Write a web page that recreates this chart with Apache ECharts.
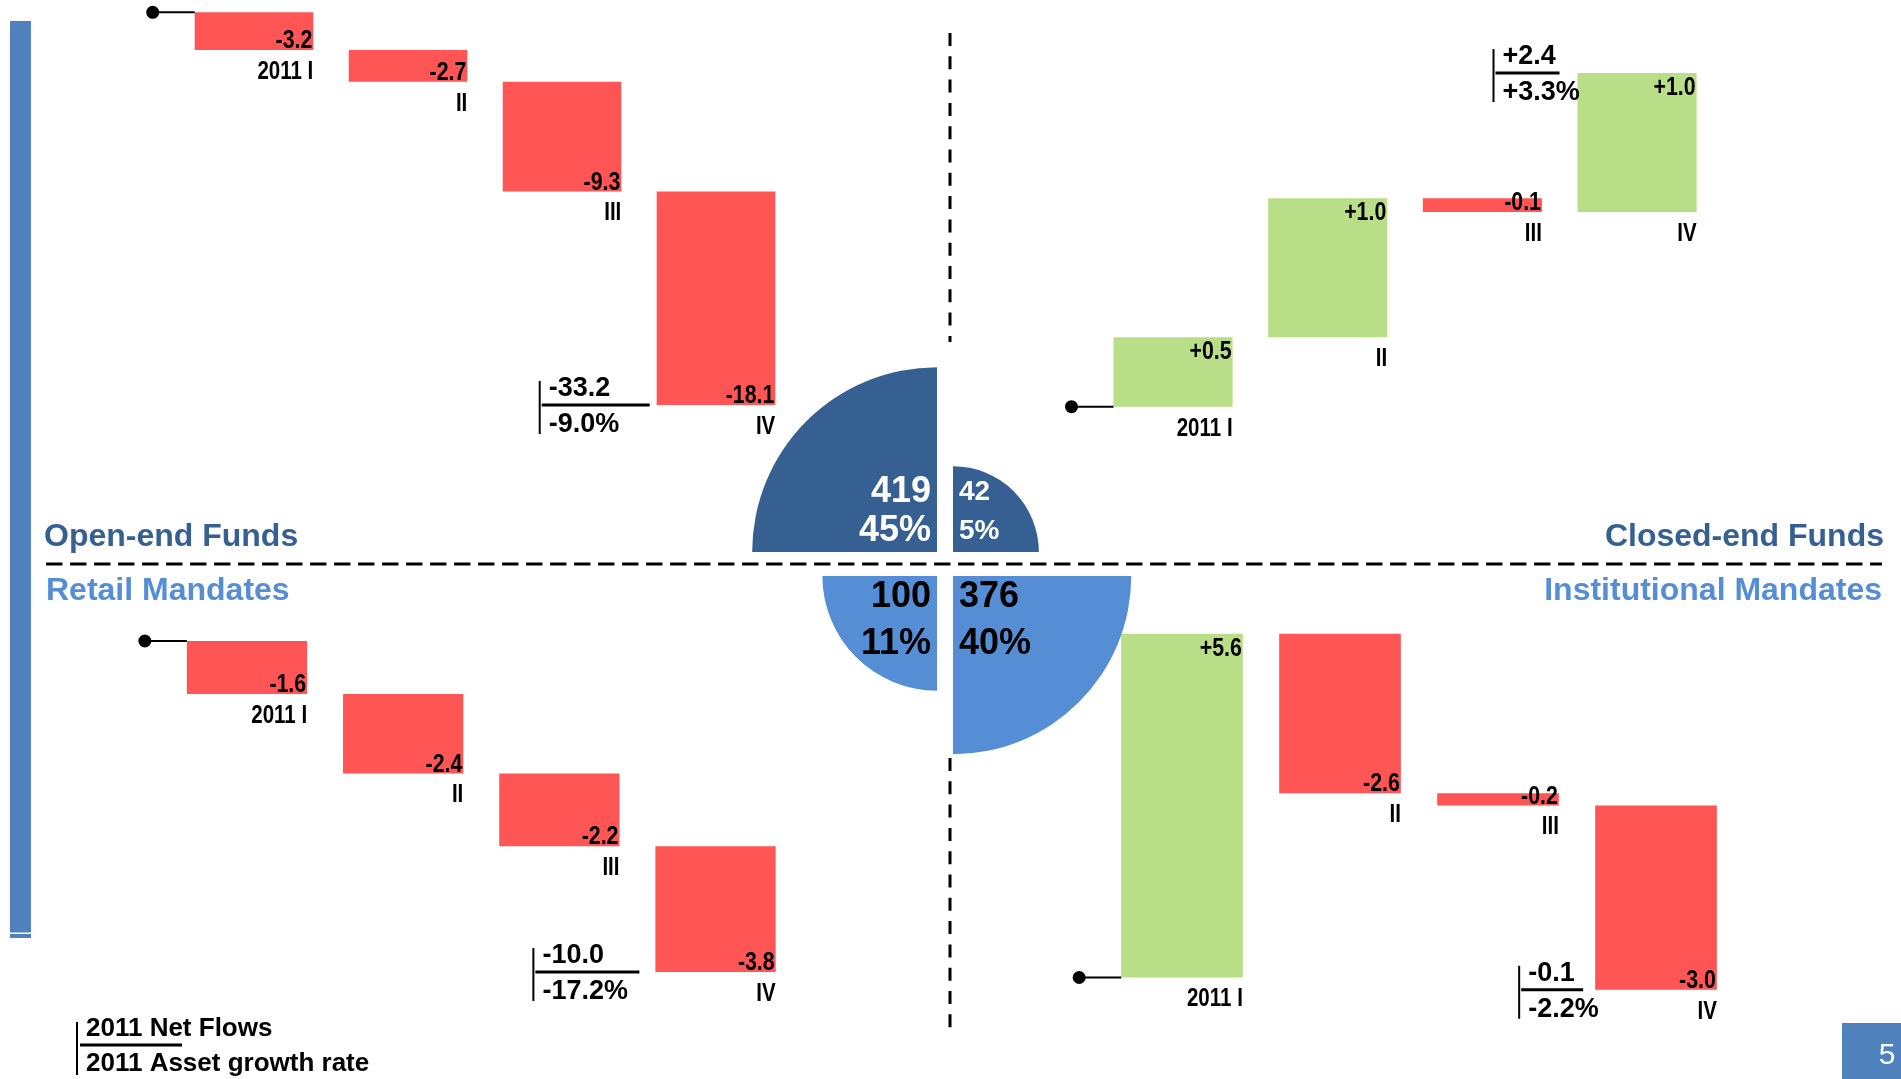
<!DOCTYPE html>
<html>
<head>
<meta charset="utf-8">
<title>2011 Net Flows by Segment</title>
<script src="https://cdn.jsdelivr.net/npm/echarts@6/dist/echarts.min.js"></script>
<style>
  html, body { margin: 0; padding: 0; background: #ffffff; }
  #chart { width: 1901px; height: 1079px; }
</style>
</head>
<body>
<div id="chart"></div>
<script>
// Quarterly net flows per segment, 2011
const quarters = ['2011 I', 'II', 'III', 'IV'];
const openEndFlows = [-3.2, -2.7, -9.3, -18.1];
const closedEndFlows = [0.5, 1.0, -0.1, 1.0];
const retailFlows = [-1.6, -2.4, -2.2, -3.8];
const institutionalFlows = [5.6, -2.6, -0.2, -3.0];

// Full-year net flows and asset growth rate (%), same segment order
const segmentNames = ['Open-end Funds', 'Closed-end Funds', 'Retail Mandates', 'Institutional Mandates'];
const netFlowTotals = [-33.2, 2.4, -10.0, -0.1];
const assetGrowthRates = [-9.0, 3.3, -17.2, -2.2];

// Assets per segment and share of the total (%)
const segmentAssets = [419, 42, 100, 376];
const segmentShares = [45, 5, 11, 40];

// ---- styling -------------------------------------------------------------
const RED = '#FF5555';
const GREEN = '#B8DF88';
const DARK_BLUE = '#376092';
const LIGHT_BLUE = '#558ED5';
const SLIDE_BLUE = '#4F81BD';
const FONT = '"Liberation Sans", Arial, Helvetica, sans-serif';
const NARROW = 0.82; // horizontal squeeze for the narrow bar captions

// One waterfall panel per quadrant: flows, plotting box, value range, note box
const panels = [
  { flows: openEndFlows, grid: { left: 177, top: 12.3, width: 616, height: 400.9 }, yMin: -34, yMax: 0, noteWidth: 110, noteGap: 7 },
  { flows: closedEndFlows, grid: { left: 1095.7, top: 59.2, width: 618.7, height: 347.5 }, yMin: 0, yMax: 2.5, noteWidth: 66, noteGap: 18 },
  { flows: retailFlows, grid: { left: 168.9, top: 641, width: 624.7, height: 347.6 }, yMin: -10.5, yMax: 0, noteWidth: 106, noteGap: 16 },
  { flows: institutionalFlows, grid: { left: 1103, top: 624.45, width: 632, height: 383.75 }, yMin: -0.5, yMax: 5.75, noteWidth: 64, noteGap: 12 }
];

function signed(v) {
  return (v > 0 ? '+' : '') + v.toFixed(1);
}

// Each row: [quarter index, level before, level after, flow]
function waterfallRows(flows) {
  let level = 0;
  return flows.map(function (v, i) {
    const start = level;
    level = Math.round((level + v) * 10) / 10;
    return [i, start, level, v];
  });
}

function renderWaterfall(panelIndex, params, api) {
  const cfg = panels[panelIndex];
  const idx = api.value(0);
  const start = api.value(1);
  const end = api.value(2);
  const delta = api.value(3);
  const hi = api.coord([idx, Math.max(start, end)]);
  const lo = api.coord([idx, Math.min(start, end)]);
  const band = api.size([1, 0])[0];
  const w = band * 0.77;
  const left = hi[0] - w / 2;
  const right = left + w;
  const negative = delta < 0;

  const children = [
    {
      type: 'rect',
      shape: { x: left, y: hi[1], width: w, height: Math.max(lo[1] - hi[1], 1) },
      style: { fill: negative ? RED : GREEN }
    },
    {
      type: 'text',
      x: right - 1,
      y: negative ? lo[1] + 4 : hi[1] + 2,
      scaleX: NARROW,
      style: {
        text: signed(delta),
        font: 'bold 26px ' + FONT,
        fill: '#000000',
        align: 'right',
        verticalAlign: negative ? 'bottom' : 'top'
      }
    },
    {
      type: 'text',
      x: right,
      y: lo[1] + 22,
      scaleX: NARROW,
      style: {
        text: quarters[idx],
        font: 'bold 25px ' + FONT,
        fill: '#000000',
        align: 'right',
        verticalAlign: 'middle'
      }
    }
  ];

  // starting level marker
  if (idx === 0) {
    const s = api.coord([idx, start]);
    children.push({
      type: 'line',
      shape: { x1: left - 42, y1: s[1], x2: left, y2: s[1] },
      style: { stroke: '#000000', lineWidth: 2 }
    });
    children.push({
      type: 'circle',
      shape: { cx: left - 42, cy: s[1], r: 6.5 },
      style: { fill: '#000000' }
    });
  }

  // full-year note next to the last quarter, at the closing level
  if (idx === cfg.flows.length - 1) {
    const e = api.coord([idx, end]);
    const xr = left - cfg.noteGap;
    const xl = xr - cfg.noteWidth;
    const y = e[1];
    children.push({
      type: 'line',
      shape: { x1: xl, y1: y - 24, x2: xl, y2: y + 29 },
      style: { stroke: '#000000', lineWidth: 2 }
    });
    children.push({
      type: 'line',
      shape: { x1: xl + 2, y1: y, x2: xr, y2: y },
      style: { stroke: '#000000', lineWidth: 3 }
    });
    children.push({
      type: 'text',
      x: xl + 9,
      y: y - 16.5,
      style: { text: signed(netFlowTotals[panelIndex]), font: 'bold 27px ' + FONT, fill: '#000000', align: 'left', verticalAlign: 'middle' }
    });
    children.push({
      type: 'text',
      x: xl + 9,
      y: y + 19.5,
      style: { text: signed(assetGrowthRates[panelIndex]) + '%', font: 'bold 27px ' + FONT, fill: '#000000', align: 'left', verticalAlign: 'middle' }
    });
  }

  return { type: 'group', children: children };
}

// ---- central segment quarters -------------------------------------------
const PIE = { cx: 945, cy: 564, gapX: 8, gapY: 12, radiusPerCubeRoot: 24.7 };
const QUADRANTS = [
  { sx: -1, sy: -1, a0: Math.PI, a1: 1.5 * Math.PI },
  { sx: 1, sy: -1, a0: 1.5 * Math.PI, a1: 2 * Math.PI },
  { sx: -1, sy: 1, a0: 0.5 * Math.PI, a1: Math.PI },
  { sx: 1, sy: 1, a0: 0, a1: 0.5 * Math.PI }
];

function renderSegment(params, api) {
  const i = api.value(0);
  const assets = api.value(1);
  const share = api.value(2);
  const q = QUADRANTS[i];
  const cx = PIE.cx + q.sx * PIE.gapX;
  const cy = PIE.cy + q.sy * PIE.gapY;
  const r = PIE.radiusPerCubeRoot * Math.cbrt(assets);
  const upper = q.sy < 0;
  const size = r < 100 ? 28 : 36;
  const color = upper ? '#ffffff' : '#000000';
  const tx = cx + q.sx * 6;
  const align = q.sx < 0 ? 'right' : 'left';
  const y1 = upper ? cy - 60 : cy + 21;
  const y2 = upper ? cy - 21 : cy + 68;
  return {
    type: 'group',
    children: [
      {
        type: 'sector',
        shape: { cx: cx, cy: cy, r0: 0, r: r, startAngle: q.a0, endAngle: q.a1, clockwise: true },
        style: { fill: upper ? DARK_BLUE : LIGHT_BLUE }
      },
      {
        type: 'text', x: tx, y: y1,
        style: { text: String(assets), font: 'bold ' + size + 'px ' + FONT, fill: color, align: align, verticalAlign: 'middle' }
      },
      {
        type: 'text', x: tx, y: y2,
        style: { text: share + '%', font: 'bold ' + size + 'px ' + FONT, fill: color, align: align, verticalAlign: 'middle' }
      }
    ]
  };
}

// ---- assemble ------------------------------------------------------------
const grids = panels.map(function (p) { return p.grid; });
const xAxes = panels.map(function (p, i) {
  return { type: 'category', gridIndex: i, data: quarters, show: false, boundaryGap: true };
});
const yAxes = panels.map(function (p, i) {
  return { type: 'value', gridIndex: i, min: p.yMin, max: p.yMax, show: false, splitLine: { show: false } };
});

const series = panels.map(function (p, i) {
  return {
    type: 'custom',
    name: segmentNames[i],
    xAxisIndex: i,
    yAxisIndex: i,
    clip: false,
    data: waterfallRows(p.flows),
    encode: { x: 0, y: [1, 2] },
    renderItem: function (params, api) { return renderWaterfall(i, params, api); }
  };
});

series.push({
  type: 'custom',
  name: 'Segments',
  coordinateSystem: 'none',
  data: segmentAssets.map(function (v, i) { return [i, v, segmentShares[i]]; }),
  renderItem: renderSegment
});

const graphic = [
  // slide accent bar
  { type: 'rect', z: 0, shape: { x: 10, y: 21, width: 21, height: 917 }, style: { fill: SLIDE_BLUE } },
  { type: 'rect', z: 1, shape: { x: 10, y: 932.5, width: 21, height: 1.5 }, style: { fill: '#ffffff' } },
  // quadrant separators
  { type: 'line', z: 0, shape: { x1: 46, y1: 564, x2: 1882, y2: 564 }, style: { stroke: '#000000', lineWidth: 3, lineDash: [16.5, 7.5] } },
  { type: 'line', z: 0, shape: { x1: 950, y1: 33, x2: 950, y2: 342 }, style: { stroke: '#000000', lineWidth: 3, lineDash: [13, 10.3] } },
  { type: 'line', z: 0, shape: { x1: 950, y1: 758, x2: 950, y2: 1031 }, style: { stroke: '#000000', lineWidth: 3, lineDash: [13, 10.3] } },
  // segment titles
  { type: 'text', x: 44, y: 537, style: { text: segmentNames[0], font: 'bold 32px ' + FONT, fill: DARK_BLUE, align: 'left', verticalAlign: 'middle' } },
  { type: 'text', x: 1884, y: 537, style: { text: segmentNames[1], font: 'bold 32px ' + FONT, fill: DARK_BLUE, align: 'right', verticalAlign: 'middle' } },
  { type: 'text', x: 46, y: 591, style: { text: segmentNames[2], font: 'bold 32px ' + FONT, fill: LIGHT_BLUE, align: 'left', verticalAlign: 'middle' } },
  { type: 'text', x: 1882, y: 591, style: { text: segmentNames[3], font: 'bold 32px ' + FONT, fill: LIGHT_BLUE, align: 'right', verticalAlign: 'middle' } },
  // key for the yearly notes
  { type: 'line', shape: { x1: 77, y1: 1022, x2: 77, y2: 1075 }, style: { stroke: '#000000', lineWidth: 2 } },
  { type: 'line', shape: { x1: 80, y1: 1045, x2: 182, y2: 1045 }, style: { stroke: '#000000', lineWidth: 3 } },
  { type: 'text', x: 86, y: 1029, style: { text: '2011 Net Flows', font: 'bold 26px ' + FONT, fill: '#000000', align: 'left', verticalAlign: 'middle' } },
  { type: 'text', x: 86, y: 1064, style: { text: '2011 Asset growth rate', font: 'bold 26px ' + FONT, fill: '#000000', align: 'left', verticalAlign: 'middle' } },
  // page number
  { type: 'rect', shape: { x: 1842, y: 1023, width: 59, height: 56 }, style: { fill: SLIDE_BLUE } },
  { type: 'text', x: 1887, y: 1056, style: { text: '5', font: '30px ' + FONT, fill: '#ffffff', align: 'center', verticalAlign: 'middle' } }
];

const chart = echarts.init(document.getElementById('chart'), null, { renderer: 'canvas' });
chart.setOption({
  animation: false,
  backgroundColor: '#ffffff',
  grid: grids,
  xAxis: xAxes,
  yAxis: yAxes,
  series: series,
  graphic: graphic
});
</script>
</body>
</html>
